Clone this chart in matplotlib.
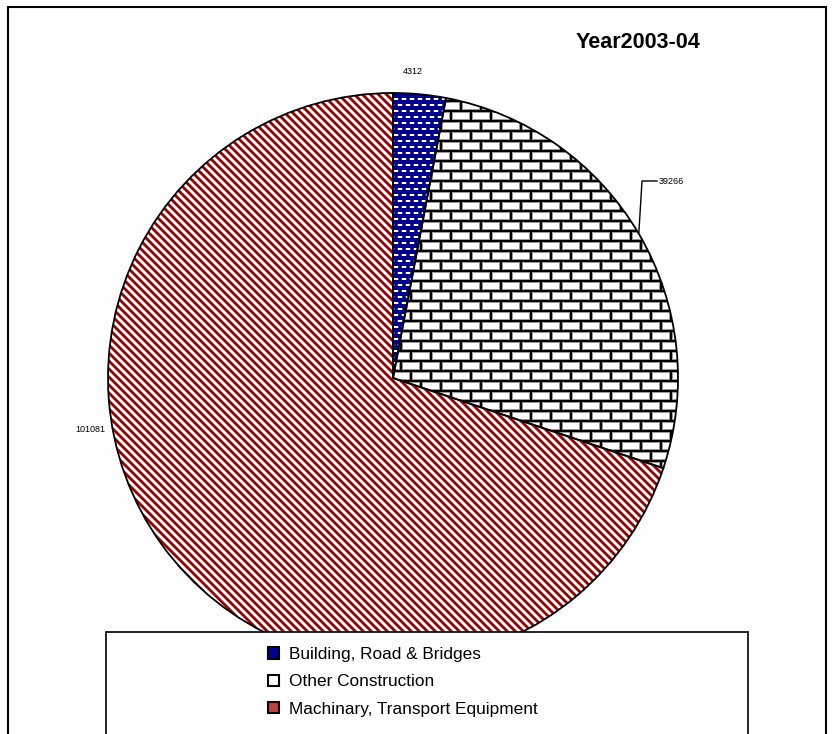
import numpy as np
import matplotlib.pyplot as plt
from matplotlib.patches import Rectangle

plt.rcParams['font.family'] = ['Liberation Sans', 'DejaVu Sans']

# data
labels = ["Building, Road & Bridges", "Other Construction", "Machinary, Transport Equipment"]
values = [4312, 39266, 101081]
title = "Year2003-04"

W, H = 840, 734
fig = plt.figure(figsize=(8.4, 7.34), dpi=100)
ax = fig.add_axes([0, 0, 1, 1])

wedges, _ = ax.pie(values, startangle=90, counterclock=False,
                   center=(393, H - 378), radius=285,
                   wedgeprops=dict(facecolor='none', edgecolor='black',
                                   linewidth=1.3, zorder=3))

# fill textures, one per slice, clipped by the wedge
rr, cc = np.mgrid[0:H, 0:W]

# blue with white dots
row = rr // 6
dy = rr % 6
dx = (cc + (row % 2) * 4) % 8
e = ((dx - 3.5) / 2.3) ** 2 + ((dy - 2.5) / 1.2) ** 2
w = np.clip(1.6 - e, 0, 1)
navy = np.array([0.0, 0.0, 0.55])
blue_tex = navy * (1 - w[..., None]) + w[..., None]

# bricks
row = rr // 10
ry = rr % 10
cx = (cc + (row % 2) * 10) % 20
hv = np.where(ry <= 1, 0.0, np.where((ry == 2) | (ry == 9), 0.6, 1.0))
vv = np.where(cx <= 1, 0.0, np.where((cx == 2) | (cx == 19), 0.6, 1.0))
g = np.minimum(hv, vv)
brick_tex = np.repeat(g[..., None], 3, axis=2)

# red diagonal stripes
t = ((cc - rr) % 8) / 8.0
w = np.clip(0.5 + 0.9 * np.cos(2 * np.pi * t), 0, 1)
dred = np.array([0.6, 0.0, 0.0])
red_tex = dred * (1 - w[..., None]) + w[..., None]

for wdg, tex in zip(wedges, [blue_tex, brick_tex, red_tex]):
    im = ax.imshow(tex, extent=(0, W, 0, H), origin='upper',
                   interpolation='nearest', zorder=1)
    im.set_clip_path(wdg)

ax.set_xlim(0, W)
ax.set_ylim(0, H)
ax.axis('off')

# value labels
ax.text(413, H - 71, str(values[0]), fontsize=6.5, ha='center', va='center')

w1 = wedges[1]
ang = np.deg2rad((w1.theta1 + w1.theta2) / 2)
ex, ey = w1.center[0] + w1.r * np.cos(ang), w1.center[1] + w1.r * np.sin(ang)
ax.plot([ex, 642, 657], [ey, H - 181, H - 181], color='black', lw=1.0, zorder=4)
ax.text(659, H - 181, str(values[1]), fontsize=6.5, ha='left', va='center')

ax.text(90, H - 430, str(values[2]), fontsize=6.5, ha='center', va='center')

# title
ax.text(638, H - 42, title, fontsize=15.5, fontweight='bold',
        ha='center', va='center')

# outer border and legend box
ax.add_patch(Rectangle((8, -10), 826 - 8, H - 7 + 10, fill=False,
                       edgecolor='black', lw=1.5, zorder=5))
ax.add_patch(Rectangle((106, -10), 748 - 106, H - 632 + 10, facecolor='white',
                       edgecolor='black', lw=1.2, zorder=6))

handles = [
    Rectangle((0, 0), 1, 1, facecolor='#000090', edgecolor='black', lw=1.5),
    Rectangle((0, 0), 1, 1, facecolor='white', edgecolor='black', lw=1.5),
    Rectangle((0, 0), 1, 1, facecolor='#c04040', edgecolor='black', lw=1.5),
]
leg = fig.legend(handles, labels, loc='upper left',
                 bbox_to_anchor=(268 / W, 1 - 647 / H), frameon=False,
                 fontsize=12.4, borderpad=0, borderaxespad=0,
                 handlelength=0.62, handleheight=0.62, handletextpad=0.62,
                 labelspacing=0.72)
leg.set_zorder(7)

fig.savefig("out.png", dpi=100)
